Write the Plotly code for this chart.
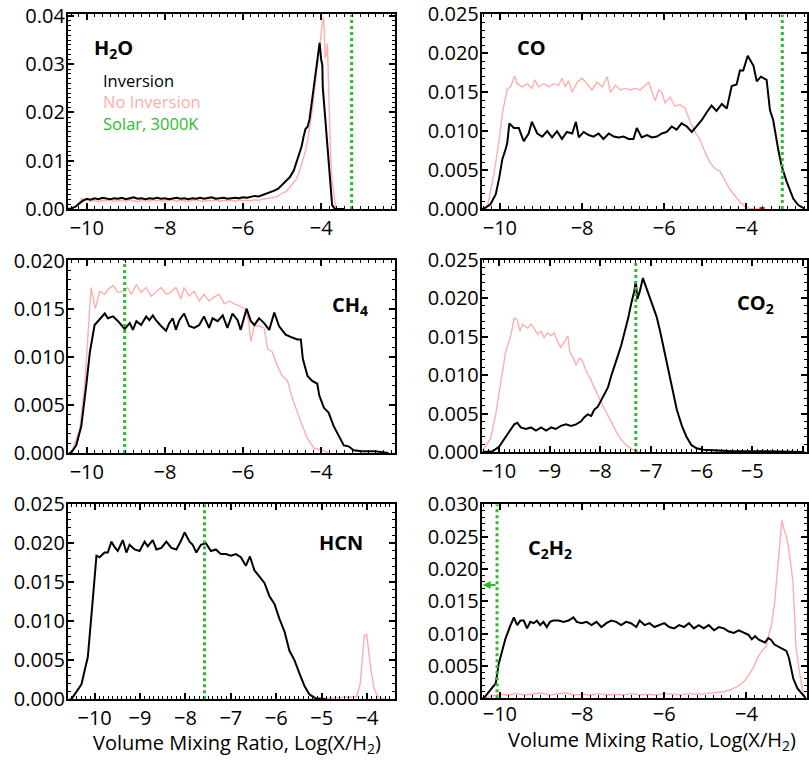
import plotly.graph_objects as go

W, H = 809, 771

# ---------------- data (log mixing ratio, normalised frequency) ----------------
h2o_inv = [(-10.5,0),(-10.4,0.0001),(-10.3,0.0004),(-10.2,0.0010),(-10.1,0.0017),(-10.0,0.0021),(-9.9,0.0019),(-9.8,0.0022),(-9.7,0.0020),(-9.6,0.0023),(-9.5,0.0021),(-9.4,0.0020),(-9.3,0.0022),(-9.2,0.0021),(-9.1,0.0023),(-9.0,0.0020),(-8.9,0.0022),(-8.8,0.0024),(-8.7,0.0021),(-8.6,0.0022),(-8.5,0.0020),(-8.4,0.0022),(-8.3,0.0021),(-8.2,0.0023),(-8.1,0.0021),(-8.0,0.0022),(-7.9,0.0020),(-7.8,0.0022),(-7.7,0.0023),(-7.6,0.0021),(-7.5,0.0022),(-7.4,0.0020),(-7.3,0.0022),(-7.2,0.0021),(-7.1,0.0023),(-7.0,0.0021),(-6.9,0.0022),(-6.8,0.0024),(-6.7,0.0021),(-6.6,0.0022),(-6.5,0.0023),(-6.4,0.0021),(-6.3,0.0022),(-6.2,0.0023),(-6.1,0.0022),(-6.0,0.0024),(-5.9,0.0023),(-5.8,0.0025),(-5.7,0.0027),(-5.6,0.0026),(-5.5,0.0029),(-5.4,0.0031),(-5.3,0.0034),(-5.2,0.0038),(-5.1,0.0042),(-5.0,0.0050),(-4.9,0.0058),(-4.8,0.0066),(-4.7,0.0080),(-4.6,0.0105),(-4.5,0.0130),(-4.45,0.0150),(-4.4,0.0166),(-4.35,0.0170),(-4.3,0.0185),(-4.25,0.0215),(-4.2,0.0245),(-4.15,0.0285),(-4.1,0.0315),(-4.04,0.0344),(-4.0,0.0310),(-3.97,0.0297),(-3.96,0.0253),(-3.9,0.0195),(-3.85,0.0140),(-3.8,0.0085),(-3.75,0.0035),(-3.72,0.0008),(-3.65,0),(-3.4,0)]
h2o_noinv = [(-10.45,0),(-10.35,0.0002),(-10.25,0.0008),(-10.18,0.0016),(-10.12,0.0022),(-10.05,0.0017),(-10.0,0.0019),(-9.9,0.0016),(-9.8,0.0018),(-9.7,0.0015),(-9.6,0.0018),(-9.5,0.0017),(-9.4,0.0019),(-9.3,0.0016),(-9.2,0.0017),(-9.1,0.0018),(-9.0,0.0016),(-8.9,0.0019),(-8.8,0.0017),(-8.7,0.0015),(-8.6,0.0018),(-8.5,0.0017),(-8.4,0.0016),(-8.3,0.0019),(-8.2,0.0017),(-8.1,0.0018),(-8.0,0.0016),(-7.9,0.0017),(-7.8,0.0019),(-7.7,0.0016),(-7.6,0.0018),(-7.5,0.0017),(-7.4,0.0016),(-7.3,0.0018),(-7.2,0.0019),(-7.1,0.0017),(-7.0,0.0016),(-6.9,0.0018),(-6.8,0.0017),(-6.7,0.0019),(-6.6,0.0016),(-6.5,0.0018),(-6.4,0.0017),(-6.3,0.0018),(-6.2,0.0016),(-6.1,0.0019),(-6.0,0.0017),(-5.9,0.0018),(-5.8,0.0017),(-5.7,0.0019),(-5.6,0.0018),(-5.5,0.0020),(-5.4,0.0021),(-5.3,0.0022),(-5.2,0.0024),(-5.1,0.0027),(-4.99,0.0033),(-4.9,0.0036),(-4.82,0.0043),(-4.74,0.0050),(-4.65,0.0060),(-4.58,0.0072),(-4.52,0.0090),(-4.46,0.0102),(-4.40,0.0120),(-4.33,0.0150),(-4.27,0.0180),(-4.22,0.0210),(-4.18,0.0240),(-4.14,0.0270),(-4.10,0.0300),(-4.05,0.0330),(-4.01,0.0360),(-3.97,0.0385),(-3.94,0.0397),(-3.92,0.0370),(-3.90,0.0313),(-3.87,0.0320),(-3.84,0.0343),(-3.82,0.0280),(-3.80,0.0200),(-3.76,0.0110),(-3.72,0.0057),(-3.67,0.0020),(-3.63,0.0004),(-3.58,0),(-3.5,0)]

co_inv = [(-10.45,0),(-10.39,0),(-10.23,0.0006),(-10.10,0.0019),(-10.02,0.0039),(-9.94,0.0064),(-9.86,0.0077),(-9.82,0.0085),(-9.77,0.0110),(-9.66,0.0104),(-9.54,0.0104),(-9.42,0.0087),(-9.30,0.0097),(-9.22,0.0112),(-9.09,0.0097),(-8.97,0.0093),(-8.85,0.0100),(-8.73,0.0092),(-8.61,0.0100),(-8.49,0.0090),(-8.37,0.0099),(-8.24,0.0097),(-8.15,0.0112),(-8.08,0.0092),(-7.96,0.0099),(-7.84,0.0095),(-7.72,0.0093),(-7.60,0.0097),(-7.48,0.0090),(-7.35,0.0097),(-7.23,0.0093),(-7.11,0.0092),(-6.99,0.0093),(-6.87,0.0090),(-6.75,0.0090),(-6.67,0.0104),(-6.55,0.0092),(-6.42,0.0095),(-6.30,0.0092),(-6.18,0.0093),(-6.06,0.0097),(-5.94,0.0099),(-5.82,0.0106),(-5.70,0.0102),(-5.58,0.0110),(-5.45,0.0106),(-5.33,0.0099),(-5.21,0.0106),(-5.09,0.0114),(-4.97,0.0124),(-4.85,0.0133),(-4.73,0.0126),(-4.60,0.0135),(-4.48,0.0129),(-4.36,0.0158),(-4.24,0.0160),(-4.16,0.0178),(-4.08,0.0178),(-3.97,0.0197),(-3.83,0.0184),(-3.75,0.0164),(-3.65,0.0170),(-3.51,0.0166),(-3.43,0.0127),(-3.35,0.0114),(-3.23,0.0077),(-3.15,0.0056),(-3.03,0.0036),(-2.86,0.0013),(-2.74,0.0005),(-2.58,0)]
co_noinv = [(-10.45,0),(-10.30,0.0004),(-10.15,0.0043),(-10.02,0.0088),(-9.93,0.0126),(-9.82,0.0154),(-9.74,0.0157),(-9.64,0.0171),(-9.58,0.0161),(-9.46,0.0157),(-9.34,0.0161),(-9.22,0.0155),(-9.15,0.0166),(-9.06,0.0157),(-8.93,0.0161),(-8.81,0.0157),(-8.69,0.0161),(-8.57,0.0159),(-8.49,0.0168),(-8.41,0.0157),(-8.33,0.0165),(-8.24,0.0150),(-8.12,0.0163),(-8.00,0.0168),(-7.88,0.0161),(-7.76,0.0153),(-7.64,0.0163),(-7.51,0.0157),(-7.39,0.0170),(-7.31,0.0150),(-7.19,0.0159),(-7.07,0.0153),(-6.95,0.0155),(-6.83,0.0153),(-6.70,0.0155),(-6.58,0.0153),(-6.46,0.0159),(-6.38,0.0163),(-6.30,0.0150),(-6.22,0.0139),(-6.14,0.0153),(-6.06,0.0150),(-5.98,0.0136),(-5.86,0.0144),(-5.74,0.0132),(-5.62,0.0134),(-5.50,0.0130),(-5.37,0.0112),(-5.25,0.0099),(-5.13,0.0089),(-5.01,0.0073),(-4.89,0.0060),(-4.77,0.0052),(-4.64,0.0048),(-4.52,0.0036),(-4.40,0.0025),(-4.28,0.0017),(-4.16,0.0009),(-4.04,0.0003),(-3.88,0),(-3.55,0)]
co_red = [(-3.68,0.00008),(-3.56,0.00008)]

ch4_inv = [(-10.45,0),(-10.39,0.0001),(-10.27,0.0008),(-10.14,0.0028),(-10.02,0.0068),(-9.92,0.0105),(-9.80,0.0133),(-9.71,0.0137),(-9.63,0.0140),(-9.54,0.0145),(-9.46,0.0140),(-9.33,0.0142),(-9.20,0.0137),(-9.03,0.0129),(-8.90,0.0135),(-8.82,0.0128),(-8.73,0.0137),(-8.61,0.0133),(-8.48,0.0142),(-8.40,0.0138),(-8.31,0.0143),(-8.23,0.0138),(-8.10,0.0132),(-7.97,0.0127),(-7.89,0.0135),(-7.80,0.0140),(-7.72,0.0128),(-7.63,0.0138),(-7.51,0.0145),(-7.38,0.0132),(-7.25,0.0130),(-7.12,0.0133),(-7.00,0.0142),(-6.87,0.0130),(-6.78,0.0140),(-6.65,0.0137),(-6.52,0.0143),(-6.40,0.0130),(-6.27,0.0145),(-6.14,0.0138),(-6.06,0.0128),(-5.91,0.0150),(-5.80,0.0137),(-5.71,0.0133),(-5.59,0.0140),(-5.46,0.0135),(-5.33,0.0128),(-5.20,0.0146),(-5.08,0.0132),(-4.91,0.0123),(-4.74,0.0120),(-4.61,0.0118),(-4.52,0.0118),(-4.47,0.0098),(-4.35,0.0080),(-4.23,0.0075),(-4.10,0.0072),(-4.05,0.0060),(-3.93,0.0047),(-3.81,0.0042),(-3.68,0.0028),(-3.55,0.0018),(-3.42,0.0008),(-3.30,0.0007),(-3.17,0.0003),(-2.96,0.0002),(-2.62,0.0002),(-2.28,0)]
ch4_noinv = [(-10.45,0),(-10.39,0),(-10.18,0.0025),(-10.05,0.0072),(-9.97,0.0122),(-9.89,0.0172),(-9.78,0.0150),(-9.67,0.0168),(-9.54,0.0165),(-9.46,0.0170),(-9.33,0.0174),(-9.20,0.0167),(-9.07,0.0168),(-8.95,0.0172),(-8.86,0.0165),(-8.73,0.0175),(-8.61,0.0167),(-8.48,0.0172),(-8.35,0.0163),(-8.23,0.0167),(-8.10,0.0172),(-7.97,0.0165),(-7.85,0.0167),(-7.72,0.0172),(-7.59,0.0160),(-7.51,0.0172),(-7.38,0.0163),(-7.25,0.0168),(-7.12,0.0158),(-7.00,0.0165),(-6.87,0.0158),(-6.74,0.0162),(-6.61,0.0165),(-6.48,0.0155),(-6.35,0.0158),(-6.23,0.0155),(-6.10,0.0153),(-5.95,0.0150),(-5.86,0.0138),(-5.80,0.0116),(-5.71,0.0133),(-5.59,0.0132),(-5.46,0.0130),(-5.37,0.0108),(-5.25,0.0105),(-5.12,0.0090),(-4.99,0.0080),(-4.86,0.0075),(-4.74,0.0057),(-4.61,0.0042),(-4.48,0.0028),(-4.35,0.0015),(-4.18,0.0005),(-3.97,0.0003),(-3.80,0)]

co2_inv = [(-10.30,0),(-10.13,0.0001),(-10.00,0.0007),(-9.87,0.0020),(-9.77,0.0030),(-9.70,0.0036),(-9.64,0.0038),(-9.57,0.0032),(-9.47,0.0030),(-9.37,0.0032),(-9.27,0.0028),(-9.17,0.0032),(-9.07,0.0028),(-8.97,0.0032),(-8.88,0.0030),(-8.78,0.0034),(-8.68,0.0036),(-8.58,0.0034),(-8.48,0.0036),(-8.38,0.0040),(-8.32,0.0045),(-8.25,0.0049),(-8.18,0.0047),(-8.12,0.0055),(-8.05,0.0059),(-7.98,0.0068),(-7.92,0.0076),(-7.85,0.0084),(-7.78,0.0100),(-7.72,0.0111),(-7.65,0.0126),(-7.59,0.0138),(-7.52,0.0155),(-7.45,0.0174),(-7.39,0.0193),(-7.33,0.0209),(-7.30,0.0222),(-7.27,0.0199),(-7.22,0.0209),(-7.16,0.0226),(-7.09,0.0213),(-7.02,0.0201),(-6.96,0.0190),(-6.89,0.0176),(-6.82,0.0157),(-6.76,0.0138),(-6.69,0.0118),(-6.63,0.0097),(-6.56,0.0076),(-6.49,0.0055),(-6.39,0.0034),(-6.30,0.0020),(-6.20,0.0009),(-6.10,0.0005),(-5.97,0.0003),(-5.70,0.0002),(-5.37,0.0001),(-4.70,0.0001),(-3.97,0)]
co2_noinv = [(-10.34,0),(-10.17,0.0017),(-10.07,0.0047),(-9.97,0.0088),(-9.87,0.0130),(-9.77,0.0151),(-9.70,0.0174),(-9.64,0.0172),(-9.59,0.0157),(-9.53,0.0166),(-9.44,0.0161),(-9.37,0.0166),(-9.31,0.0161),(-9.24,0.0153),(-9.17,0.0157),(-9.11,0.0149),(-9.04,0.0155),(-8.97,0.0151),(-8.91,0.0155),(-8.84,0.0143),(-8.78,0.0136),(-8.71,0.0143),(-8.64,0.0151),(-8.60,0.0130),(-8.53,0.0122),(-8.48,0.0113),(-8.41,0.0122),(-8.35,0.0118),(-8.28,0.0105),(-8.21,0.0097),(-8.15,0.0088),(-8.08,0.0078),(-8.02,0.0070),(-7.94,0.0059),(-7.85,0.0047),(-7.75,0.0034),(-7.65,0.0022),(-7.55,0.0013),(-7.45,0.0007),(-7.35,0.0003),(-7.22,0)]

hcn_inv = [(-10.55,0),(-10.51,0),(-10.29,0.0019),(-10.15,0.0054),(-10.04,0.0128),(-9.96,0.0184),(-9.89,0.0182),(-9.78,0.0188),(-9.71,0.0188),(-9.63,0.0202),(-9.56,0.0195),(-9.49,0.0190),(-9.38,0.0204),(-9.30,0.0188),(-9.23,0.0198),(-9.12,0.0192),(-9.01,0.0190),(-8.90,0.0202),(-8.83,0.0196),(-8.72,0.0204),(-8.64,0.0192),(-8.53,0.0194),(-8.42,0.0202),(-8.31,0.0194),(-8.20,0.0192),(-8.09,0.0204),(-8.02,0.0214),(-7.91,0.0202),(-7.84,0.0198),(-7.76,0.0188),(-7.66,0.0198),(-7.55,0.0200),(-7.44,0.0190),(-7.33,0.0192),(-7.22,0.0186),(-7.11,0.0186),(-7.00,0.0184),(-6.89,0.0186),(-6.78,0.0182),(-6.67,0.0171),(-6.58,0.0183),(-6.48,0.0165),(-6.37,0.0157),(-6.26,0.0149),(-6.15,0.0132),(-6.04,0.0122),(-5.93,0.0103),(-5.82,0.0087),(-5.71,0.0062),(-5.60,0.0050),(-5.49,0.0033),(-5.38,0.0017),(-5.27,0.0006),(-5.13,0.0001),(-4.91,0)]
hcn_noinv = [(-5.30,0),(-4.23,0.0003),(-4.15,0.0020),(-4.10,0.0055),(-4.06,0.0082),(-4.01,0.0083),(-3.97,0.0065),(-3.91,0.0035),(-3.84,0.0012),(-3.75,0.0002),(-3.60,0)]

c2h2_inv = [(-10.45,0),(-10.39,0),(-10.23,0.0013),(-10.10,0.0023),(-10.03,0.0053),(-9.95,0.0073),(-9.86,0.0093),(-9.74,0.0113),(-9.66,0.0125),(-9.58,0.0113),(-9.50,0.0120),(-9.42,0.0120),(-9.34,0.0108),(-9.26,0.0118),(-9.18,0.0116),(-9.10,0.0120),(-9.02,0.0113),(-8.94,0.0118),(-8.86,0.0110),(-8.78,0.0118),(-8.70,0.0120),(-8.57,0.0120),(-8.45,0.0118),(-8.33,0.0120),(-8.21,0.0125),(-8.13,0.0118),(-8.01,0.0116),(-7.89,0.0118),(-7.77,0.0113),(-7.65,0.0118),(-7.53,0.0110),(-7.41,0.0116),(-7.29,0.0120),(-7.17,0.0118),(-7.05,0.0113),(-6.93,0.0118),(-6.81,0.0116),(-6.68,0.0110),(-6.60,0.0120),(-6.48,0.0113),(-6.36,0.0116),(-6.24,0.0110),(-6.12,0.0113),(-6.00,0.0116),(-5.88,0.0110),(-5.76,0.0108),(-5.64,0.0113),(-5.52,0.0110),(-5.40,0.0116),(-5.28,0.0108),(-5.16,0.0113),(-5.04,0.0108),(-4.92,0.0113),(-4.79,0.0105),(-4.67,0.0110),(-4.55,0.0108),(-4.43,0.0103),(-4.31,0.0101),(-4.19,0.0105),(-4.07,0.0101),(-3.95,0.0098),(-3.87,0.0091),(-3.79,0.0096),(-3.71,0.0091),(-3.63,0.0088),(-3.55,0.0086),(-3.47,0.0093),(-3.40,0.0090),(-3.32,0.0083),(-3.24,0.0080),(-3.12,0.0076),(-3.03,0.0073),(-2.97,0.0063),(-2.92,0.0045),(-2.86,0.0030),(-2.76,0.0015),(-2.64,0.0005),(-2.56,0)]
c2h2_noinv = [(-10.45,0),(-10.39,0),(-10.19,0.0003),(-10.03,0.0006),(-9.8,0.0005),(-9.6,0.0007),(-9.4,0.0005),(-9.2,0.0006),(-9.0,0.0008),(-8.8,0.0005),(-8.6,0.0006),(-8.4,0.0008),(-8.2,0.0005),(-8.0,0.0006),(-7.8,0.0005),(-7.6,0.0007),(-7.4,0.0005),(-7.2,0.0006),(-7.0,0.0005),(-6.8,0.0007),(-6.6,0.0005),(-6.4,0.0006),(-6.2,0.0005),(-6.0,0.0007),(-5.8,0.0006),(-5.6,0.0005),(-5.4,0.0007),(-5.2,0.0006),(-5.0,0.0007),(-4.79,0.0008),(-4.55,0.0010),(-4.39,0.0013),(-4.23,0.0018),(-4.07,0.0025),(-3.95,0.0035),(-3.83,0.0048),(-3.71,0.0065),(-3.60,0.0075),(-3.52,0.0080),(-3.45,0.0100),(-3.40,0.0110),(-3.32,0.0145),(-3.24,0.0205),(-3.19,0.0240),(-3.14,0.0275),(-3.09,0.0262),(-3.04,0.0252),(-2.98,0.0235),(-2.92,0.0205),(-2.87,0.0180),(-2.83,0.0130),(-2.80,0.0080),(-2.71,0.0040),(-2.63,0.0010),(-2.56,0)]

# solar 3000K reference values (log X/H2)
solar = {"h2o": -3.22, "co": -3.13, "ch4": -9.03, "co2": -7.30, "hcn": -7.58, "c2h2": -10.07}

legend_items = ["Inversion", "No Inversion", "Solar, 3000K"]

# ---------------- panel geometry ----------------
# key, axis suffix, x px span, y px span (top, bottom), x range, y range,
# x dtick, x minor dtick, y dtick, y format, x-label standoff
panels = [
    ("h2o", "", (68, 396), (0.5, 202), [-10.485, -2.11], [0, 0.0403], 2, 0.2, 0.01, ".2f", 0),
    ("co", "2", (483, 808.5), (0.5, 202), [-10.44, -2.54], [0, 0.025], 2, 0.2, 0.005, ".3f", 0),
    ("ch4", "3", (68, 396), (254.5, 455), [-10.485, -2.11], [0, 0.0201], 2, 0.2, 0.005, ".3f", 0),
    ("co2", "4", (483, 808.5), (254.5, 454), [-10.34, -3.93], [0, 0.025], 1, 0.1, 0.005, ".3f", 0),
    ("hcn", "5", (68, 396), (508, 710), [-10.59, -3.385], [0, 0.025], 1, 0.1, 0.005, ".3f", 0),
    ("c2h2", "6", (483, 808.5), (508, 709), [-10.44, -2.54], [0, 0.030], 2, 0.2, 0.005, ".3f", -3),
]

series = {
    "h2o": (h2o_inv, h2o_noinv),
    "co": (co_inv, co_noinv),
    "ch4": (ch4_inv, ch4_noinv),
    "co2": (co2_inv, co2_noinv),
    "hcn": (hcn_inv, hcn_noinv),
    "c2h2": (c2h2_inv, c2h2_noinv),
}

BLACK = "black"
PINK = "#ffadad"
GREEN = "#2dbb2d"
FONT = "Open Sans"
TICK = 20

fig = go.Figure()
layout = dict(
    width=W, height=H,
    margin=dict(l=0, r=0, t=0, b=0),
    paper_bgcolor="white", plot_bgcolor="white",
    showlegend=False,
    font=dict(family=FONT, size=TICK, color="black"),
)

for key, sfx, (x0, x1), (yt, yb), xr, yr, xdt, xmin, ydt, yfmt, xso in panels:
    xa = "xaxis" + sfx
    ya = "yaxis" + sfx
    xref = "x" + sfx
    yref = "y" + sfx
    layout[xa] = dict(
        domain=[x0 / W, x1 / W], range=xr, anchor=yref,
        showgrid=False, zeroline=False, showline=True, linecolor="black", linewidth=2,
        mirror="allticks", ticks="inside", ticklen=6, tickwidth=1.5, tickcolor="black",
        dtick=xdt, tick0=0, tickfont=dict(size=TICK), ticklabelstandoff=xso,
        minor=dict(ticks="inside", ticklen=3, tickwidth=1, dtick=xmin, tick0=0, tickcolor="black"),
    )
    layout[ya] = dict(
        domain=[1 - yb / H, 1 - yt / H], range=yr, anchor=xref,
        showgrid=False, zeroline=False, showline=True, linecolor="black", linewidth=2,
        mirror="allticks", ticks="inside", ticklen=6, tickwidth=1.5, tickcolor="black",
        dtick=ydt, tick0=0, tickformat=yfmt, tickfont=dict(size=TICK), ticklabelstandoff=-3,
        minor=dict(ticks="inside", ticklen=3, tickwidth=1, dtick=0.001, tick0=0, tickcolor="black"),
    )
    inv, noinv = series[key]
    fig.add_trace(go.Scatter(x=[p[0] for p in noinv], y=[p[1] for p in noinv], mode="lines",
                             line=dict(color=PINK, width=1.4), xaxis=xref, yaxis=yref))
    fig.add_trace(go.Scatter(x=[p[0] for p in inv], y=[p[1] for p in inv], mode="lines",
                             line=dict(color=BLACK, width=2), xaxis=xref, yaxis=yref))
    fig.add_trace(go.Scatter(x=[solar[key], solar[key]], y=yr, mode="lines",
                             line=dict(color=GREEN, width=3, dash="dot"), xaxis=xref, yaxis=yref))
    if key == "co":
        fig.add_trace(go.Scatter(x=[p[0] for p in co_red], y=[p[1] for p in co_red], mode="lines",
                                 line=dict(color="red", width=2.5), xaxis=xref, yaxis=yref))

fig.update_layout(**layout)

anns = []
def label(text, xp, yp, size=20, color="black", bold=True, xanchor="left"):
    t = "<b>%s</b>" % text if bold else text
    anns.append(dict(text=t, x=xp / W, y=1 - yp / H, xref="paper", yref="paper",
                     xanchor=xanchor, yanchor="middle", showarrow=False, align="left",
                     font=dict(family=FONT, size=size, color=color)))

label("H<sub>2</sub>O", 92, 36)
label("CO", 516, 35)
label("CH<sub>4</sub>", 331, 302)
label("CO<sub>2</sub>", 737, 300)
label("HCN", 318, 548)
label("C<sub>2</sub>H<sub>2</sub>", 527, 554)

# in-panel legend as one left-aligned multi-line text block
legend_text = "<br>".join(
    '<span style="color:%s">%s</span>' % (c, t)
    for c, t in zip([BLACK, PINK, GREEN], legend_items)
)
label(legend_text, 101, 91, size=16.5, bold=False)

label("Volume Mixing Ratio, Log(X/H<sub>2</sub>)", 238, 756, size=20, bold=False, xanchor="center")
label("Volume Mixing Ratio, Log(X/H<sub>2</sub>)", 654, 753, size=20, bold=False, xanchor="center")

# upper-limit arrow on the C2H2 solar value
anns.append(dict(x=-10.42, y=0.0175, ax=solar["c2h2"], ay=0.0175, xref="x6", yref="y6",
                 axref="x6", ayref="y6", text="", showarrow=True, arrowhead=2, arrowsize=0.8,
                 arrowwidth=2, arrowcolor=GREEN))

fig.update_layout(annotations=anns)
fig.write_html("out.html",
               config={"displayModeBar": False},
               post_script="document.body.style.margin='0';document.body.style.padding='0';")
